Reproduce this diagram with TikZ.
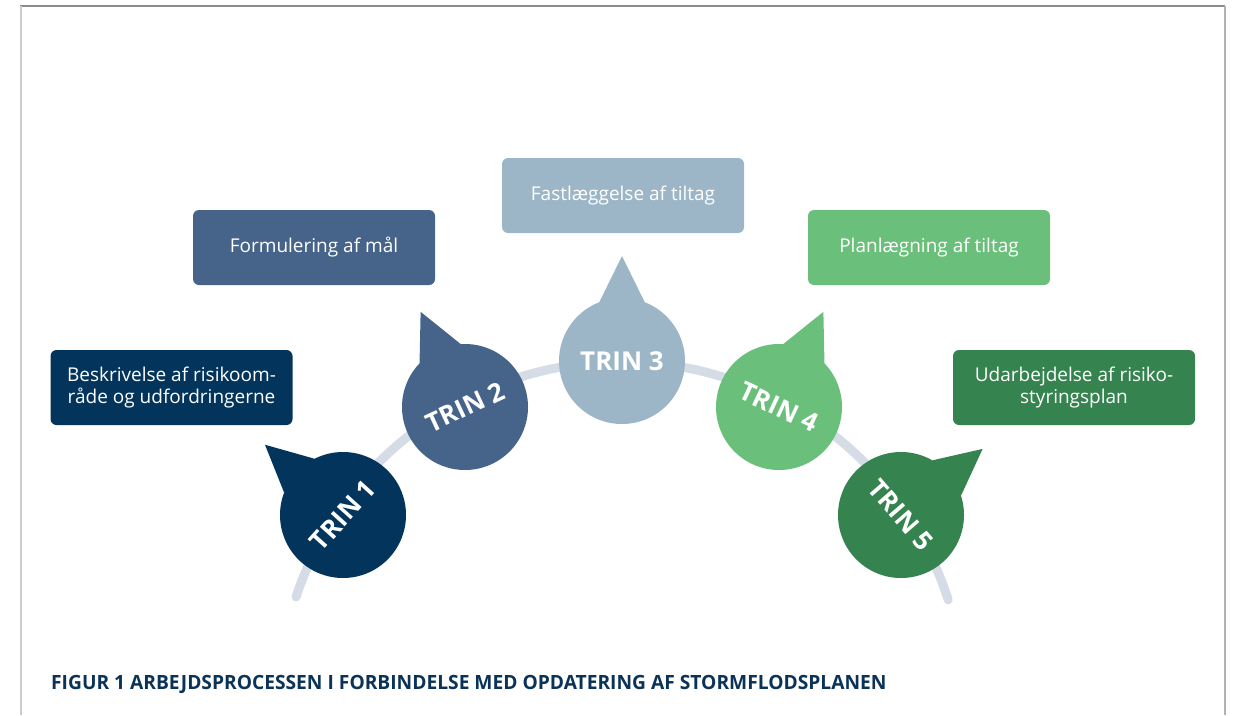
\documentclass[tikz,border=0pt]{standalone}
\usepackage{fontspec}
\setmainfont{Open Sans}
\usetikzlibrary{positioning,calc}

\definecolor{trinA}{HTML}{03355C}
\definecolor{trinB}{HTML}{46638A}
\definecolor{trinC}{HTML}{9DB6C7}
\definecolor{trinD}{HTML}{6ABF7B}
\definecolor{trinE}{HTML}{35834F}
\definecolor{buegraa}{HTML}{D5DCE6}
\definecolor{figtekst}{HTML}{0B3358}

\begin{document}
\begin{tikzpicture}[x=1pt,y=-1pt,
  trin/.style={circle,minimum size=126pt,inner sep=0pt,text=white,
    font=\fontsize{26}{26}\selectfont\bfseries},
  boks/.style={rounded corners=6pt,minimum width=242pt,minimum height=75pt,
    text=white,align=center,font=\fontsize{19}{22}\selectfont}]
\useasboundingbox (0,0) rectangle (1236,715);

% ramme
\draw[line width=1.5pt,black!45] (20,6) -- (1225,6);
\draw[line width=2.5pt,black!20] (21,6) -- (21,715);
\draw[line width=2pt,black!30] (1224.5,6) -- (1224.5,715);

% bue bag trinene
\draw[line width=9pt,line cap=round,buegraa] (296,597) arc[start angle=198.3,end angle=342.2,radius=343];

\node[trin,fill=trinA] (t1) at (343,515) {\rotatebox{48}{TRIN 1}};
\node[trin,fill=trinB] (t2) at (465,407) {\rotatebox{25}{TRIN 2}};
\node[trin,fill=trinC] (t3) at (622,361) {TRIN 3};
\node[trin,fill=trinD] (t4) at (779,407) {\rotatebox{-25}{TRIN 4}};
\node[trin,fill=trinE] (t5) at (901,515) {\rotatebox{-49}{TRIN 5}};

% spidser
\foreach \i/\a/\c in {1/138/trinA,2/115/trinB,3/90/trinC,4/65/trinD,5/39/trinE}{
  \coordinate (p\i) at ($(t\i.center)+(\a:105pt)$);
  \fill[\c] (t\i.{\a+21}) -- (p\i) -- (t\i.{\a-21}) -- cycle;
}

\node[boks,fill=trinA] (b1) at (171.5,387.5) {Beskrivelse af risikoom-\\råde og udfordringerne};
\node[boks,fill=trinB] (b2) at (314,247.5) {Formulering af mål};
\node[boks,fill=trinC] (b3) at (623,195.5) {Fastlæggelse af tiltag};
\node[boks,fill=trinD] (b4) at (929,247.5) {Planlægning af tiltag};
\node[boks,fill=trinE] (b5) at (1074,387.5) {Udarbejdelse af risiko-\\styringsplan};

\node[anchor=base west,inner sep=0pt,text=figtekst,font=\fontsize{19.6}{20}\selectfont\bfseries] (fig) at (51,689)
  {\scalebox{0.98}[1]{FIGUR 1 ARBEJDSPROCESSEN I FORBINDELSE MED OPDATERING AF STORMFLODSPLANEN}};
\end{tikzpicture}
\end{document}
